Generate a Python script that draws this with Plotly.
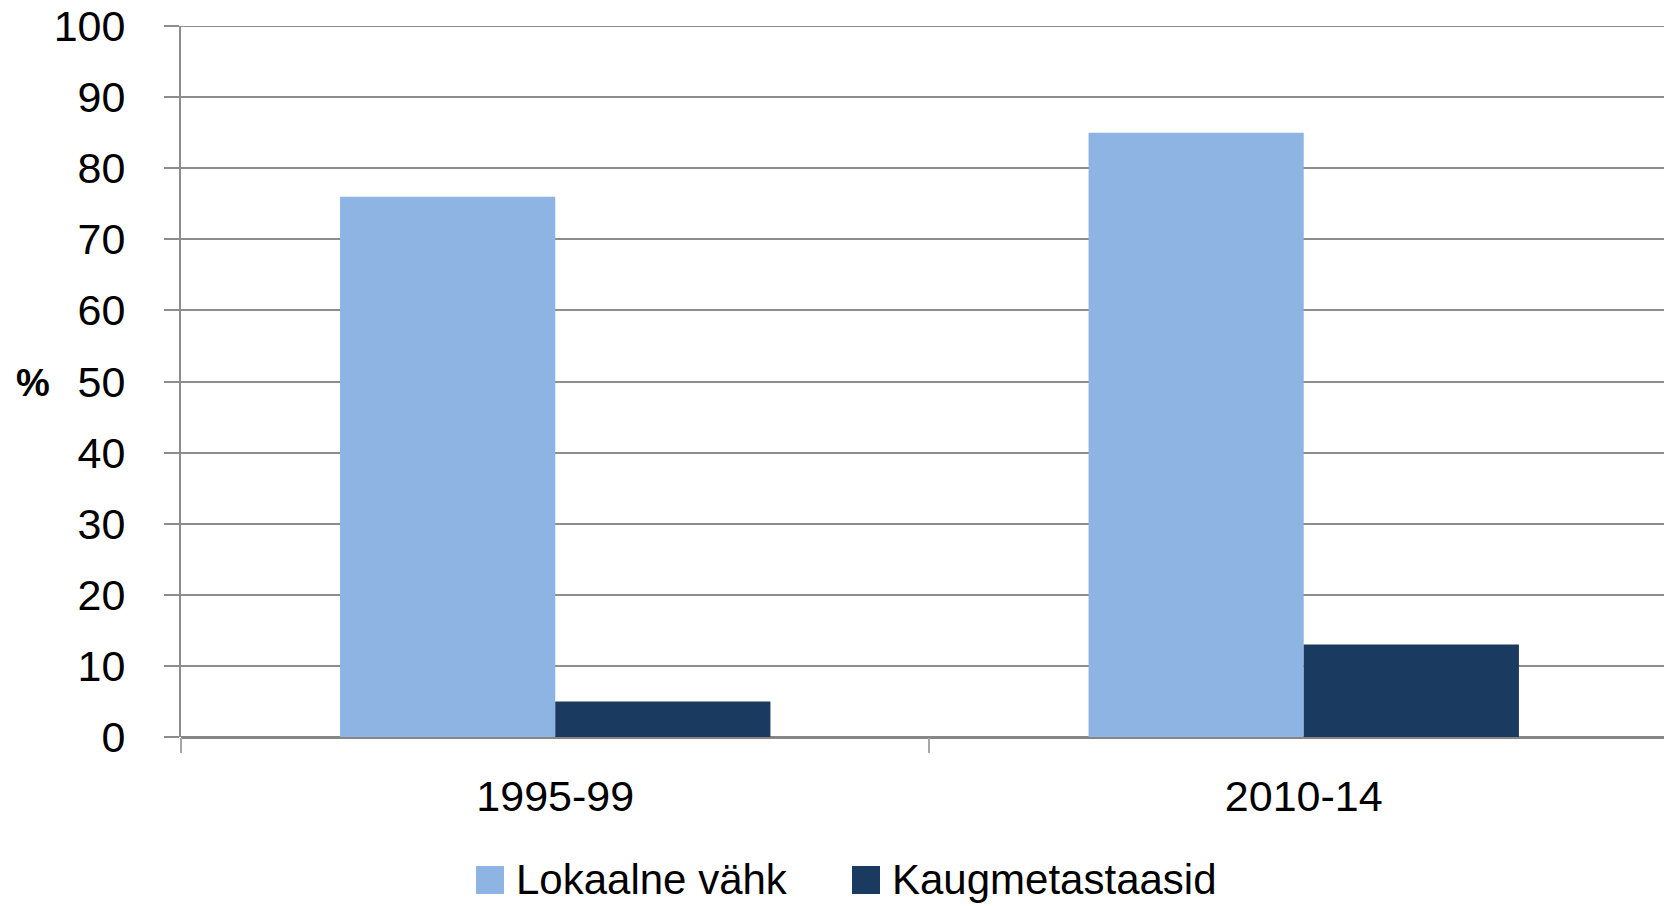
import plotly.graph_objects as go

categories = ["1995-99", "2010-14"]
series_names = ["Lokaalne vähk", "Kaugmetastaasid"]
lokaalne = [76, 85]
kaugmet = [5, 13]
series_values = [lokaalne, kaugmet]
series_colors = ["#8EB4E3", "#1B3A5F"]
y_ticks = [0, 10, 20, 30, 40, 50, 60, 70, 80, 90, 100]
y_label = "%"

FONT = "Liberation Sans, Arial, sans-serif"
OFF = 8  # default page body margin
W, H = 1672 - OFF, 906 - OFF
L, R, T, B = 181 - OFF, 0, 26 - OFF, 906 - 737


def px_x(x):
    return (x - OFF - L) / (W - L - R)


def px_y(y):
    return (H - B - (y - OFF)) / (H - T - B)


fig = go.Figure()
for name, vals, col in zip(series_names, series_values, series_colors):
    fig.add_trace(go.Bar(x=categories, y=vals, name=name, marker_color=col,
                         marker_line_width=0, showlegend=False))

fig.update_layout(
    width=W, height=H,
    margin=dict(l=L, r=R, t=T, b=B, pad=0, autoexpand=False),
    paper_bgcolor="white", plot_bgcolor="white",
    barmode="group", bargap=0.425, bargroupgap=0,
    font=dict(family=FONT, size=43, color="black"),
)
fig.update_xaxes(
    type="category", range=[-0.5, 1.492], automargin=False,
    showgrid=False, showline=False, zeroline=False,
    ticks="outside", tickson="boundaries", ticklen=15, tickwidth=2, tickcolor="#A6A6A6",
    tickfont=dict(size=43), ticklabelstandoff=30,
)
fig.update_yaxes(
    range=[0, 100], tickvals=y_ticks, ticktext=[str(v) for v in y_ticks],
    automargin=False,
    showgrid=True, gridcolor="#8C8C8C", gridwidth=2,
    showline=True, linecolor="#8C8C8C", linewidth=2,
    zeroline=True, zerolinecolor="#868686", zerolinewidth=3,
    ticks="outside", ticklen=15, tickwidth=2, tickcolor="#8C8C8C",
    tickfont=dict(size=43), ticklabelstandoff=30, ticklabeloverflow="allow",
)
# top gridline at 100 (plotly may omit the gridline lying on the plot edge)
fig.add_shape(type="line", xref="paper", yref="y", x0=0, x1=1,
              y0=y_ticks[-1], y1=y_ticks[-1], line=dict(color="#8C8C8C", width=2),
              layer="below")

# y-axis title (horizontal, bold)
fig.add_annotation(text="<b>" + y_label + "</b>", xref="paper", yref="paper",
                   x=px_x(33), y=px_y(383), xanchor="center", yanchor="middle",
                   showarrow=False, font=dict(size=38, family=FONT))

# manual legend
sq = 28
legend_y = 880
legend_x = [476, 852]
for nm, col, lx in zip(series_names, series_colors, legend_x):
    fig.add_shape(type="rect", xref="paper", yref="paper",
                  x0=px_x(lx), x1=px_x(lx + sq),
                  y0=px_y(legend_y + sq / 2), y1=px_y(legend_y - sq / 2),
                  fillcolor=col, line=dict(width=0))
    fig.add_annotation(text=nm, xref="paper", yref="paper",
                       x=px_x(lx + sq + 10), y=px_y(legend_y),
                       xanchor="left", yanchor="middle", showarrow=False,
                       font=dict(size=42, family=FONT))

fig.write_html("out.html")
